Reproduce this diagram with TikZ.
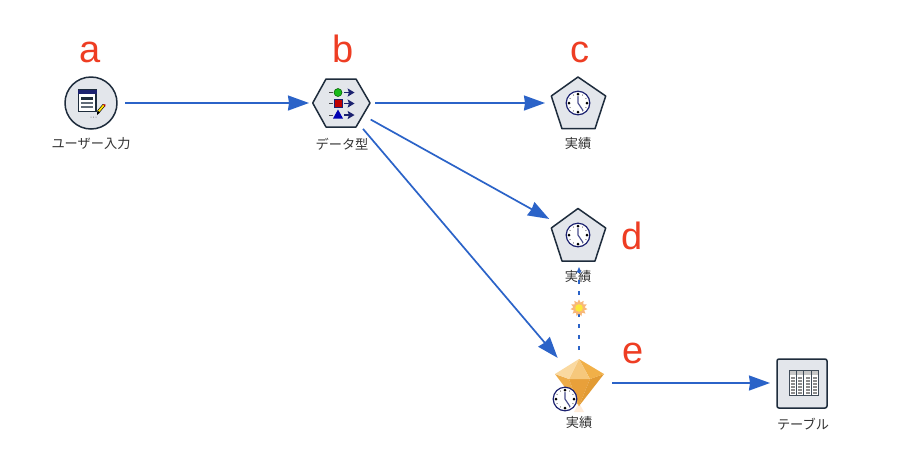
\documentclass[tikz,border=0pt]{standalone}
\usepackage{fontspec}
\setmainfont{Liberation Sans}
\newfontfamily\jpfont{Noto Sans CJK JP}
\usetikzlibrary{arrows.meta,shapes.geometric}
\definecolor{flow}{HTML}{2B63C8}
\definecolor{iconfill}{HTML}{E3E6EB}
\definecolor{iconline}{HTML}{1E2C3C}
\definecolor{navyi}{HTML}{1C2270}
\definecolor{tagred}{HTML}{EE3D23}
\definecolor{starhalo}{HTML}{F8B878}
\definecolor{starcore}{HTML}{FCE83A}
\tikzset{
  x=1pt,y=-1pt,
  hub/.style={circle,minimum size=#1,inner sep=0pt,outer sep=0pt},
  flowline/.style={draw=flow,line width=1.7pt,-{Stealth[length=21pt,width=15pt,inset=1pt]}},
  linkline/.style={draw=flow,line width=1.6pt,dash pattern=on 4.5pt off 6.5pt,-{Stealth[length=6pt,width=5pt]}},
  iconshape/.style={fill=iconfill,draw=iconline,line width=1.5pt,line join=round},
  tag/.style={text=tagred,font=\fontsize{38}{38}\selectfont,inner sep=0pt,anchor=base},
  caption/.style={text=black!80,font=\jpfont\fontsize{13.2}{15}\selectfont,inner sep=0pt},
  pics/clock/.style={code={
    \fill[white] (0,0) circle (11.8);
    \draw[navyi,line width=1.2pt] (0,0) circle (11.8);
    \foreach \q in {0,90,180,270}{\fill[black] (\q:9) circle (1.5);}
    \foreach \q in {30,60,120,150,210,240,300,330}{\fill[black!70] (\q:9.2) circle (.6);}
    \draw[navyi!80,line width=1.2pt,line cap=round] (0,-6.5) -- (0,0) -- (5,7.5);
  }}
}
\begin{document}
\begin{tikzpicture}
\useasboundingbox (0,0) rectangle (900,467);
\fill[white] (0,0) rectangle (900,467);
% anchor nodes for connectors
\node[hub=68pt] (a) at (91,103) {};
\node[hub=64pt] (b) at (341,103) {};
\node[hub=66pt] (c) at (578,103) {};
\node[hub=66pt] (d) at (578,235) {};
\node[hub=66pt] (e) at (579,383) {};
\node[hub=64pt] (t) at (802,383) {};
\node[hub=68pt] (bout) at (341,103) {};
\coordinate (dtip) at (579,267);
% captions
\node[caption] (la) at (91,144) {ユーザー入力};
\node[caption] (lb) at (342,144) {データ型};
\node[caption] (lc) at (578,144) {実績};
\node[caption] (ld) at (578,277) {実績};
\node[caption] (le) at (579,423) {実績};
\node[caption] (lt) at (803,424) {テーブル};
% connectors
\draw[flowline] (a) -- (b);
\draw[flowline] (bout) -- (c);
\draw[flowline] (bout) -- (d);
\draw[flowline] (bout) -- (e);
\draw[flowline] (e) -- (t);
\draw[linkline] (e) -- (dtip);
\node[star,star points=11,star point ratio=1.5,minimum size=17pt,inner sep=0pt,fill=starhalo] (st) at (579,308) {};
\fill[starcore] (st.center) circle (3.8);
% a: user input
\draw[iconshape] (a.center) circle (26);
\fill[white] (78.5,90) rectangle (96,111.5);
\draw[iconline,line width=1.1pt] (78.5,90) rectangle (96,111.5);
\fill[navyi] (78,89.5) rectangle (96.5,94);
\fill[iconline] (81,97) rectangle (93,99.5);
\fill[iconline!70] (81,101.5) rectangle (93,103.5);
\fill[iconline!70] (81,105.5) rectangle (93,107.5);
\draw[black,line width=3pt] (98.5,111.5) -- (104,105);
\draw[yellow!85!orange,line width=1.8pt] (98.5,111.5) -- (104,105);
\fill[black] (97,115) -- (97.4,110.5) -- (100,112.5) -- cycle;
\fill[red!70!black] (103,104) -- (105.5,104.5) -- (105,107) -- cycle;
\foreach \k in {91,93.5,96}{\fill[black!60] (\k,117) circle (.5);}
% b: type
\draw[iconshape] (312.7,103) -- (326,79) -- (356,79) -- (370,103) -- (356,127) -- (326,127) -- cycle;
\foreach \r in {92.5,103.5,115}{
  \draw[black!70,line width=1pt] (329,\r) -- (333,\r);
  \draw[navyi,line width=1.3pt] (344,\r) -- (350,\r);
  \fill[navyi] (347.5,\r-4.2) -- (354.5,\r) -- (347.5,\r+4.2) -- (349,\r) -- cycle;
}
\fill[green!70!black!90] (338,92.5) circle (4);
\draw[green!35!black,line width=.5pt] (338,92.5) circle (4);
\fill[red!75!black] (334,99.5) rectangle (342,107.5);
\draw[navyi,line width=.5pt] (334,99.5) rectangle (342,107.5);
\fill[blue!70!black] (338,109.5) -- (343,118.5) -- (333,118.5) -- cycle;
% c: pentagon
\draw[iconshape] (578,77) -- (605.7,96) -- (595,128.7) -- (562,128.7) -- (551.3,96) -- cycle;
\pic at (578,103) {clock};
% d: pentagon
\draw[iconshape] (578,208.5) -- (605.7,228) -- (595,261) -- (562,261) -- (551.3,228) -- cycle;
\pic at (578,235) {clock};
% e: diamond
\fill[orange!15] (579,403) -- (584,412) -- (574,412) -- cycle;
\fill[fill={rgb,255:red,238;green,172;blue,72}] (555,374) -- (569,379) -- (579,406) -- cycle;
\fill[fill={rgb,255:red,232;green,160;blue,58}] (569,379) -- (590,379) -- (579,406) -- cycle;
\fill[fill={rgb,255:red,226;green,155;blue,52}] (604,374) -- (590,379) -- (579,406) -- cycle;
\fill[fill={rgb,255:red,241;green,176;blue,72}] (579,359) -- (604,374) -- (590,379) -- cycle;
\fill[fill={rgb,255:red,246;green,200;blue,124}] (579,359) -- (590,379) -- (569,379) -- cycle;
\fill[fill={rgb,255:red,250;green,217;blue,160}] (579,359) -- (569,379) -- (555,374) -- cycle;
\pic at (565,399) {clock};
% table
\draw[iconshape,rounded corners=2pt] (777,359) rectangle (827,408);
\fill[white] (789,370) rectangle (818,395);
\fill[black!22] (789,370) rectangle (818,375);
\draw[iconline!85,line width=.7pt] (789,370) rectangle (818,395);
\foreach \k in {796,803.5,811}{\draw[iconline!85,line width=.7pt] (\k,370) -- (\k,395);}
\foreach \r in {378,381,384,387,390,393}{
  \foreach \k in {790.5,798,805.5,812.5}{\fill[black!45] (\k,\r-.6) rectangle (\k+4,\r+.6);}
}
% letters
\node[tag] (ta) at (90,62) {a};
\node[tag] (tb) at (343,62) {b};
\node[tag] (tc) at (580,62) {c};
\node[tag] (td) at (632,249) {d};
\node[tag] (te) at (633,363) {e};
\end{tikzpicture}
\end{document}
